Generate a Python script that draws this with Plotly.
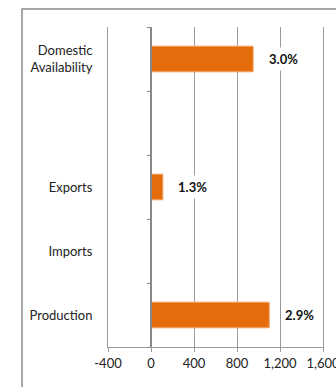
import plotly.graph_objects as go

categories = ["Production", "Imports", "Exports", " ", "Domestic<br>Availability"]
values = [1100, 0, 110, None, 950]
labels = ["2.9%", "", "1.3%", "", "3.0%"]
x_ticks = [-400, 0, 400, 800, 1200, 1600]
x_ticktext = ["-400", "0", "400", "800", "1,200", "1,600"]
label_offset = 280

FONT = "Lato"
GRID = "#9a9a9a"

fig = go.Figure()
fig.add_trace(go.Bar(
    y=categories, x=values, orientation="h", width=0.4,
    marker=dict(color="#E46C0A", line=dict(color="#F2A366", width=1)),
    showlegend=False, hoverinfo="skip",
))
fig.add_trace(go.Scatter(
    y=categories, x=[0] * len(categories), yaxis="y2", mode="markers",
    marker=dict(opacity=0), showlegend=False, hoverinfo="skip",
))

annotations = []
for c, v, t in zip(categories, values, labels):
    if t:
        annotations.append(dict(
            x=v + label_offset, y=c, xref="x", yref="y", text="<b>%s</b>" % t,
            showarrow=False, bgcolor="white", font=dict(family=FONT, size=13, color="#111"),
            xanchor="center", yanchor="middle", borderpad=3,
        ))

fig.update_layout(
    width=336, height=387,
    margin=dict(l=108, r=13, t=27, b=40, autoexpand=False),
    paper_bgcolor="white", plot_bgcolor="white",
    font=dict(family=FONT, size=13, color="#222"),
    xaxis=dict(
        range=[-400, 1600], tickvals=x_ticks, ticktext=x_ticktext,
        showgrid=True, gridcolor=GRID, gridwidth=1,
        zeroline=True, zerolinecolor="#888", zerolinewidth=2,
        showline=True, linecolor=GRID, linewidth=1,
        ticks="outside", ticklen=4, tickcolor=GRID,
        ticklabeloverflow="allow", automargin=False,
        tickfont=dict(size=13, color="#222"), fixedrange=True,
    ),
    yaxis=dict(
        type="category", categoryorder="array", categoryarray=categories,
        range=[-0.5, len(categories) - 0.5],
        showgrid=False, zeroline=False, showline=True, mirror=True,
        linecolor=GRID, linewidth=1, ticks="", ticklabelstandoff=12,
        automargin=False,
        tickfont=dict(size=13, color="#222"), fixedrange=True,
    ),
    yaxis2=dict(
        type="category", categoryorder="array", categoryarray=categories,
        range=[-0.5, len(categories) - 0.5],
        overlaying="y", anchor="free", position=0.2, side="left",
        showgrid=False, zeroline=False, showline=True, linecolor="#888", linewidth=2,
        showticklabels=False, ticks="outside", ticklen=3, tickcolor="#888",
        tickson="boundaries", fixedrange=True, automargin=False,
    ),
    annotations=annotations,
    shapes=[dict(
        type="rect", xref="paper", yref="paper",
        x0=-0.4, x1=1.3, y0=-0.3, y1=1.056,
        line=dict(color="#8a8a8a", width=1.5), fillcolor="rgba(0,0,0,0)", layer="below",
    )],
)

fig.write_html("out.html")
